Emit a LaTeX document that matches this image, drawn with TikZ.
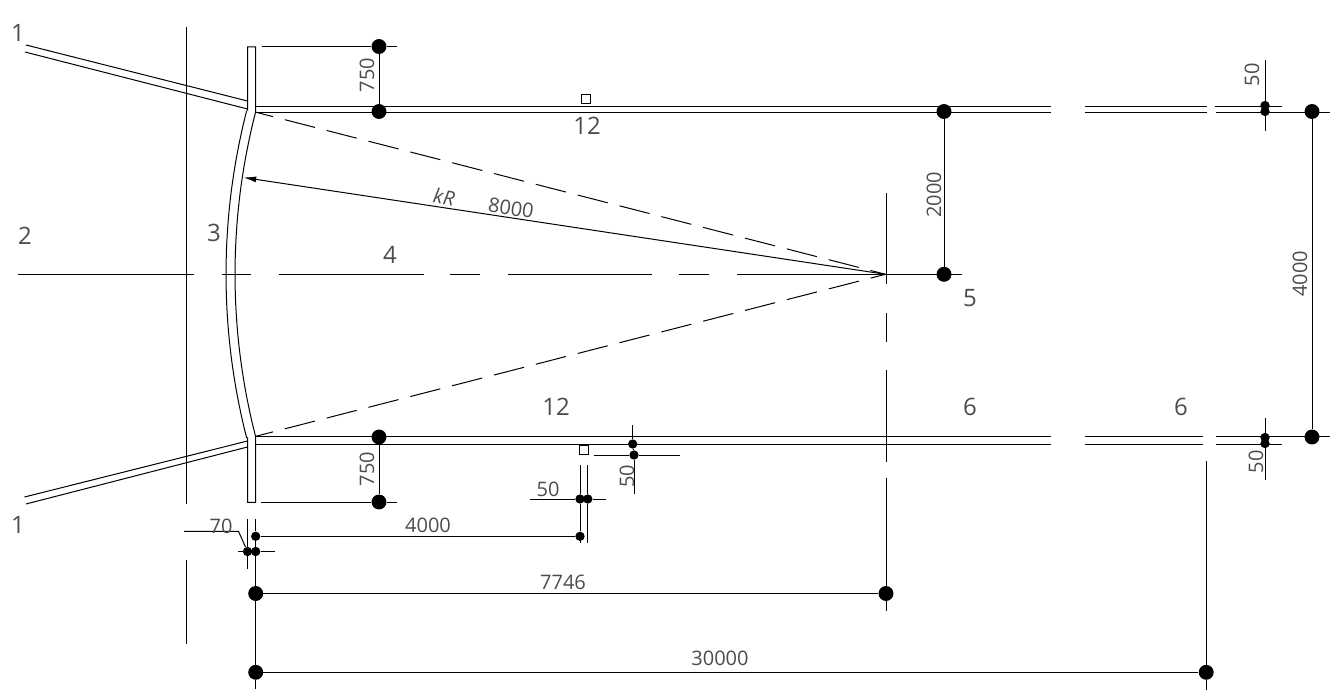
\documentclass[tikz,border=0pt]{standalone}
\usepackage{fontspec}
\setmainfont{Open Sans}
\usetikzlibrary{arrows.meta}
\tikzset{
  wall/.style={line width=0.75pt},
  dimline/.style={line width=0.75pt},
  chain/.style={line width=0.75pt,dash pattern=on 23.25pt off 9.15pt,dash phase=9.3pt},
  bigdot/.style={circle,fill=black,inner sep=0pt,minimum size=11.2pt},
  smalldot/.style={circle,fill=black,inner sep=0pt,minimum size=7pt},
  bignum/.style={inner sep=0pt,font=\fontsize{18}{18}\selectfont,text=black!70},
  dimnum/.style={inner sep=0pt,font=\fontsize{15}{15}\selectfont,text=black!70},
}
\begin{document}
\begin{tikzpicture}[x=0.75pt,y=-0.75pt]
  \useasboundingbox (0,0) rectangle (1339,699);
  % dimension dots
  \node[bigdot] (topa) at (379,46.5) {};
  \node[bigdot] (topb) at (379,111.5) {};
  \node[bigdot] (lowa) at (379,437) {};
  \node[bigdot] (lowb) at (379,502) {};
  \node[bigdot] (half) at (944,111.5) {};
  \node[bigdot] (axis) at (944,274.3) {};
  \node[bigdot] (widea) at (1312,111.5) {};
  \node[bigdot] (wideb) at (1312,437) {};
  \node[bigdot] (starta) at (255.7,593.5) {};
  \node[bigdot] (enda) at (886,593.5) {};
  \node[bigdot] (startb) at (255.7,672.3) {};
  \node[bigdot] (endb) at (1206.2,672.3) {};
  \node[smalldot] (starc) at (255.7,536.3) {};
  \node[smalldot] (endc) at (580,536.3) {};
  \node[smalldot] (platea) at (247.5,551.5) {};
  \node[smalldot] (plateb) at (255.7,551.5) {};
  \node[smalldot] (slota) at (580,499) {};
  \node[smalldot] (slotb) at (587.8,499) {};
  \node[smalldot] (gapa) at (632.7,444) {};
  \node[smalldot] (gapb) at (634,455) {};
  \node[smalldot] (rima) at (1265,105.5) {};
  \node[smalldot] (rimb) at (1265,111.5) {};
  \node[smalldot] (rimc) at (1265,437.5) {};
  \node[smalldot] (rimd) at (1265,443.5) {};
  \coordinate (centre) at (885.5,274.3);
  \coordinate (radtip) at (243.5,177.5);
  % wing walls
  \draw[wall] (26,45) -- (247.5,101);
  \draw[wall] (25,52) -- (247.5,109);
  \draw[wall] (24.5,497) -- (247.5,441);
  \draw[wall] (26,504) -- (247.5,447);
  % curved plate
  \draw[wall] (247.5,110.7) -- (247.5,47) -- (255.5,47) -- (255.5,112)
    plot[domain=-14.43:14.43,samples=41] ({885-650*cos(\x)},{274.3+650*sin(\x)})
    -- (255.5,502.3) -- (247.5,502.3) -- (247.5,437.3)
    plot[domain=14.37:-14.37,samples=41] ({885-659*cos(\x)},{274.3+659*sin(\x)});
  % side walls
  \foreach \y/\a/\b/\c in {106.5/1207/1215/1282,112.3/1207/1216/1330}
    {\draw[wall] (255.5,\y) -- (1051,\y);
     \draw[wall] (1085,\y) -- (\a,\y);
     \draw[wall] (\b,\y) -- (\c,\y);}
  \foreach \y/\c in {436.7/1330,444.2/1282}
    {\draw[wall] (255.5,\y) -- (1051,\y);
     \draw[wall] (1085,\y) -- (1203,\y);
     \draw[wall] (1216,\y) -- (\c,\y);}
  % axes
  \foreach \a/\b in {18/194,222/251,279/424,450/480,508/652,679/709,737/962}
    \draw[dimline] (\a,274.3) -- (\b,274.3);
  \foreach \a/\b in {193/284,313/342,370/462,478/610}
    \draw[dimline] (886,\a) -- (886,\b);
  \draw[dimline] (186.5,27) -- (186.5,504);
  \draw[dimline] (186.5,560) -- (186.5,644);
  % rays
  \draw[chain] (255,112) -- (centre);
  \draw[chain] (255,436.5) -- (centre);
  \draw[dimline,-{Latex[length=9.5pt,width=4.5pt]}] (centre) -- (radtip);
  % dimensions
  \draw[dimline] (topa) -- (topb);
  \draw[dimline] (topa) -- +(-117,0);
  \draw[dimline] (topa) -- +(18,0);
  \draw[dimline] (lowa) -- (lowb);
  \draw[dimline] (lowb) -- +(-118,0);
  \draw[dimline] (lowb) -- +(18,0);
  \draw[dimline] (half) -- (axis);
  \draw[dimline] (widea) -- (wideb);
  \draw[dimline] (starc) -- (endc);
  \draw[dimline] (starta) -- (enda);
  \draw[dimline] (startb) -- (endb);
  \draw[dimline] (starc) -- +(0,-17);
  \draw[dimline] (starc) -- (plateb);
  \draw[dimline] (plateb) -- (starta);
  \draw[dimline] (starta) -- (startb);
  \draw[dimline] (startb) -- +(0,17);
  \draw[dimline] (plateb) -- +(19,0);
  \draw[dimline] (platea) -- +(-9.5,0);
  \draw[dimline] (platea) -- +(0,-32.5);
  \draw[dimline] (platea) -- +(0,17.5);
  \draw[dimline] (platea) -- (plateb);
  \draw[dimline] (184,531.3) -- (238.5,531.3) -- (platea);
  \draw[dimline] (endc) -- (slota);
  \draw[dimline] (slota) -- +(0,-34);
  \draw[dimline] (endc) -- +(0,6.5);
  \draw[dimline] (slotb) -- +(0,-34);
  \draw[dimline] (slotb) -- +(0,43.7);
  \draw[dimline] (slota) -- +(-50,0);
  \draw[dimline] (slota) -- (slotb);
  \draw[dimline] (slotb) -- +(18.5,0);
  \draw[dimline] (gapa) -- +(0,-19);
  \draw[dimline] (gapa) -- (gapb);
  \draw[dimline] (gapb) -- +(0,39);
  \draw[dimline] (gapb) -- +(-40,0);
  \draw[dimline] (gapb) -- +(46,0);
  \draw[dimline] (rima) -- +(0,-45.5);
  \draw[dimline] (rima) -- (rimb);
  \draw[dimline] (rimb) -- +(0,19.5);
  \draw[dimline] (rimc) -- +(0,-19.5);
  \draw[dimline] (rimc) -- (rimd);
  \draw[dimline] (rimd) -- +(0,36.5);
  \draw[dimline] (enda) -- +(0,17);
  \draw[dimline] (endb) -- +(0,-211.3);
  \draw[dimline] (endb) -- +(0,17.7);
  % slot marks
  \node[draw,line width=0.75pt,inner sep=0pt,minimum size=6.8pt] (marka) at (586,99.2) {};
  \node[draw,line width=0.75pt,inner sep=0pt,minimum size=6.8pt] (markb) at (584,449.7) {};
  % labels
  \node[bignum] (numa) at (18,33) {1};
  \node[bignum] (numb) at (18,525) {1};
  \node[bignum] (numc) at (25,236) {2};
  \node[bignum] (numd) at (214,233) {3};
  \node[bignum] (nume) at (390,255) {4};
  \node[bignum] (numf) at (587,126) {12};
  \node[bignum] (numg) at (556,407) {12};
  \node[bignum] (numh) at (970,298) {5};
  \node[bignum] (numi) at (970,407) {6};
  \node[bignum] (numj) at (1181,407) {6};
  \node[dimnum,rotate=90] (dima) at (367,75) {750};
  \node[dimnum,rotate=90] (dimb) at (367,469) {750};
  \node[dimnum,rotate=90] (dimc) at (934,195) {2000};
  \node[dimnum,rotate=90] (dimd) at (1300,274) {4000};
  \node[dimnum,rotate=90] (dime) at (1252,75) {50};
  \node[dimnum,rotate=90] (dimf) at (1256,462) {50};
  \node[dimnum,rotate=90] (dimg) at (627,476) {50};
  \node[dimnum] (dimh) at (548,489) {50};
  \node[dimnum] (dimi) at (221,526) {70};
  \node[dimnum] (dimj) at (428,525) {4000};
  \node[dimnum] (dimk) at (563,582) {7746};
  \node[dimnum] (diml) at (720,658) {30000};
  \node[dimnum,rotate=-9] (dimm) at (511,208) {8000};
  \node[dimnum,rotate=-9,font=\fontsize{15}{15}\selectfont\itshape] (dimn) at (444,197) {kR};
\end{tikzpicture}
\end{document}
